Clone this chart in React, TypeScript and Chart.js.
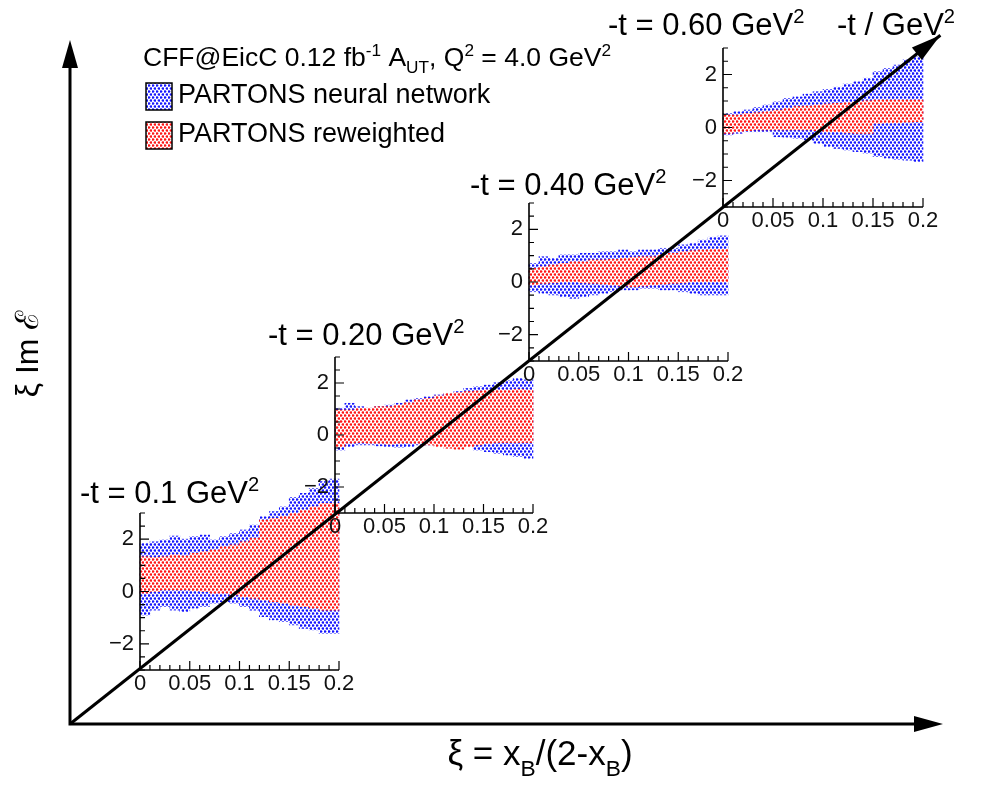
import React, { useEffect, useRef } from 'react';
import { Chart, registerables } from 'chart.js';

Chart.register(...registerables);

// ---------------- data ----------------
const BIN_CENTERS = [0.005, 0.015, 0.025, 0.035, 0.045, 0.055, 0.065, 0.075, 0.085, 0.095,
  0.105, 0.115, 0.125, 0.135, 0.145, 0.155, 0.165, 0.175, 0.185, 0.195];

const T_VALUES = ['0.1', '0.20', '0.40', '0.60'];
const X_TICKS = [0, 0.05, 0.1, 0.15, 0.2];
const Y_TICKS = [-2, 0, 2];

// -t = 0.1
const NN_HI_1 = [1.84, 1.90, 1.97, 2.12, 2.00, 2.10, 2.16, 1.97, 2.10, 2.22, 2.35, 2.54, 2.86, 3.05, 3.24, 3.60, 3.75, 3.94, 4.20, 4.30];
const NN_LO_1 = [-0.90, -0.71, -0.58, -0.71, -0.77, -0.64, -0.58, -0.45, -0.39, -0.45, -0.58, -0.71, -0.96, -1.09, -1.15, -1.28, -1.41, -1.47, -1.60, -1.60];
const RW_HI_1 = [1.33, 1.30, 1.33, 1.40, 1.36, 1.46, 1.52, 1.59, 1.71, 1.78, 1.90, 2.03, 2.73, 2.80, 2.86, 2.99, 3.11, 3.24, 3.37, 3.37];
const RW_LO_1 = [-0.07, 0.00, 0.06, 0.06, 0.06, 0.03, 0.00, -0.07, -0.07, -0.13, -0.20, -0.26, -0.32, -0.39, -0.45, -0.52, -0.58, -0.64, -0.71, -0.71];

// -t = 0.20
const NN_HI_2 = [1.03, 1.22, 1.09, 1.03, 1.09, 1.15, 1.22, 1.35, 1.41, 1.47, 1.54, 1.60, 1.67, 1.79, 1.86, 1.92, 2.01, 2.09, 2.18, 2.12];
const NN_LO_2 = [-0.58, -0.45, -0.38, -0.38, -0.42, -0.45, -0.47, -0.45, -0.38, -0.38, -0.26, -0.32, -0.38, -0.45, -0.58, -0.64, -0.71, -0.77, -0.83, -0.90];
const RW_HI_2 = [0.96, 0.96, 1.03, 1.03, 1.09, 1.09, 1.15, 1.24, 1.35, 1.41, 1.50, 1.60, 1.63, 1.67, 1.70, 1.73, 1.73, 1.73, 1.76, 1.73];
const RW_LO_2 = [-0.45, -0.32, -0.29, -0.32, -0.32, -0.35, -0.32, -0.32, -0.32, -0.38, -0.45, -0.51, -0.55, -0.45, -0.38, -0.32, -0.29, -0.29, -0.29, -0.29];

// -t = 0.40
const NN_HI_3 = [0.71, 0.96, 0.90, 1.03, 1.03, 1.09, 1.09, 1.15, 1.15, 1.22, 1.15, 1.22, 1.22, 1.28, 1.28, 1.41, 1.47, 1.59, 1.70, 1.75];
const NN_LO_3 = [-0.37, -0.43, -0.49, -0.56, -0.62, -0.56, -0.49, -0.43, -0.37, -0.30, -0.30, -0.24, -0.24, -0.30, -0.30, -0.37, -0.43, -0.49, -0.49, -0.49];
const RW_HI_3 = [0.52, 0.58, 0.65, 0.71, 0.77, 0.77, 0.84, 0.84, 0.86, 0.90, 0.94, 0.96, 0.96, 1.03, 1.09, 1.15, 1.19, 1.22, 1.24, 1.24];
const RW_LO_3 = [-0.11, -0.05, -0.03, 0.01, 0.01, -0.03, -0.05, -0.08, -0.11, -0.15, -0.18, -0.15, -0.11, -0.08, -0.05, -0.03, 0.01, 0.01, 0.01, 0.01];

// -t = 0.60
const NN_HI_4 = [0.53, 0.60, 0.66, 0.76, 0.85, 0.97, 1.10, 1.16, 1.26, 1.35, 1.44, 1.52, 1.64, 1.73, 1.86, 2.11, 2.23, 2.36, 2.55, 2.67];
const NN_LO_4 = [-0.28, -0.22, -0.16, -0.16, -0.16, -0.35, -0.37, -0.41, -0.47, -0.60, -0.72, -0.79, -0.85, -0.91, -0.97, -1.10, -1.16, -1.20, -1.23, -1.29];
const RW_HI_4 = [0.47, 0.47, 0.53, 0.56, 0.60, 0.66, 0.72, 0.79, 0.81, 0.85, 0.89, 0.91, 0.94, 0.97, 1.01, 1.04, 1.04, 1.04, 1.04, 1.04];
const RW_LO_4 = [-0.22, -0.16, -0.12, -0.09, -0.09, -0.09, -0.09, -0.09, -0.09, -0.12, -0.16, -0.16, -0.20, -0.22, -0.22, 0.16, 0.18, 0.18, 0.20, 0.22];

const SERIES = [
  [NN_LO_1, NN_HI_1, RW_LO_1, RW_HI_1],
  [NN_LO_2, NN_HI_2, RW_LO_2, RW_HI_2],
  [NN_LO_3, NN_HI_3, RW_LO_3, RW_HI_3],
  [NN_LO_4, NN_HI_4, RW_LO_4, RW_HI_4],
];

// main frame (diagonal -t axis)
const DIAG_X = [0, 0.997];
const DIAG_Y = [0, 1.007];

const LEGEND_NN = 'PARTONS neural network';
const LEGEND_RW = 'PARTONS reweighted';

// ---------------- layout ----------------
const W = 981;
const H = 788;
const FONT = '"Liberation Sans", Arial, Helvetica, sans-serif';
const Y_AXIS_W = 50;
const X_AXIS_H = 30;

const INSET_BOXES = [
  { l: 140, t: 513, r: 339, b: 670 },
  { l: 335, t: 357, r: 533, b: 513 },
  { l: 529, t: 203, r: 728, b: 361 },
  { l: 723, t: 48, r: 923, b: 207 },
];
const INSET_LABEL_POS = [
  { x: 80, y: 503 },
  { x: 268, y: 345 },
  { x: 470, y: 195 },
  { x: 608, y: 35 },
];

type Seg = { t: string; s?: 'sup' | 'sub' };

function richWidth(ctx: CanvasRenderingContext2D, segs: Seg[], size: number) {
  let w = 0;
  for (const seg of segs) {
    const fs = seg.s ? size * 0.65 : size;
    ctx.font = `${fs}px ${FONT}`;
    w += ctx.measureText(seg.t).width;
  }
  return w;
}

function drawRich(ctx: CanvasRenderingContext2D, segs: Seg[], x: number, y: number, size: number, subDrop = 0.25) {
  ctx.save();
  ctx.fillStyle = '#000';
  ctx.textAlign = 'left';
  ctx.textBaseline = 'alphabetic';
  let cx = x;
  for (const seg of segs) {
    const fs = seg.s ? size * 0.65 : size;
    ctx.font = `${fs}px ${FONT}`;
    const dy = seg.s === 'sup' ? -size * 0.38 : seg.s === 'sub' ? size * subDrop : 0;
    ctx.fillText(seg.t, cx, y + dy);
    cx += ctx.measureText(seg.t).width;
  }
  ctx.restore();
}

function makePattern(color: string, bg: string | null): CanvasPattern | string {
  const c = document.createElement('canvas');
  c.width = 4;
  c.height = 6;
  const g = c.getContext('2d');
  if (!g) return color;
  if (bg) {
    g.fillStyle = bg;
    g.fillRect(0, 0, 4, 6);
  }
  g.fillStyle = color;
  g.beginPath();
  g.arc(1, 1.5, 1.35, 0, Math.PI * 2);
  g.fill();
  g.beginPath();
  g.arc(3, 4.5, 1.35, 0, Math.PI * 2);
  g.fill();
  const p = g.createPattern(c, 'repeat');
  return p || color;
}

const insetAxesPlugin = {
  id: 'insetAxes',
  afterDatasetsDraw(chart: any) {
    const { ctx, chartArea: ca } = chart;
    const xs = chart.scales.x;
    const ys = chart.scales.y;
    ctx.save();
    ctx.strokeStyle = '#000';
    ctx.lineWidth = 1.6;
    ctx.beginPath();
    ctx.moveTo(ca.left, ca.top);
    ctx.lineTo(ca.left, ca.bottom);
    ctx.lineTo(ca.right, ca.bottom);
    ctx.stroke();
    ctx.lineWidth = 1.2;
    ctx.beginPath();
    for (let k = 0; k <= 20; k++) {
      const px = xs.getPixelForValue(k * 0.01);
      const len = k % 5 === 0 ? 9 : 5;
      ctx.moveTo(px, ca.bottom);
      ctx.lineTo(px, ca.bottom - len);
    }
    for (let k = -6; k <= 6; k++) {
      const py = ys.getPixelForValue(k * 0.5);
      const len = k % 4 === 0 ? 9 : 5;
      ctx.moveTo(ca.left, py);
      ctx.lineTo(ca.left + len, py);
    }
    ctx.stroke();
    ctx.restore();
  },
};

function insetConfig(idx: number, blue: any, red: any): any {
  const box = INSET_BOXES[idx];
  const [nnLo, nnHi, rwLo, rwHi] = SERIES[idx];
  const common = {
    borderWidth: 0,
    barPercentage: 1,
    categoryPercentage: 1,
    grouped: false,
    clip: false,
  };
  return {
    type: 'bar',
    data: {
      datasets: [
        {
          label: LEGEND_RW,
          data: BIN_CENTERS.map((x, i) => ({ x, y: [rwLo[i], rwHi[i]] })),
          backgroundColor: red,
          order: 1,
          ...common,
        },
        {
          label: LEGEND_NN,
          data: BIN_CENTERS.map((x, i) => ({ x, y: [nnLo[i], nnHi[i]] })),
          backgroundColor: blue,
          order: 2,
          ...common,
        },
      ],
    },
    options: {
      responsive: false,
      animation: false,
      events: [],
      layout: {
        padding: { left: box.l - Y_AXIS_W, top: box.t, right: W - box.r, bottom: H - box.b - X_AXIS_H },
      },
      plugins: { legend: { display: false }, tooltip: { enabled: false } },
      scales: {
        x: {
          type: 'linear',
          min: 0,
          max: 0.2,
          offset: false,
          grid: { display: false, drawTicks: false },
          border: { display: false },
          ticks: {
            color: '#111',
            font: { family: FONT, size: 22 },
            padding: 1,
            maxRotation: 0,
            autoSkip: false,
            callback: (v: number) => String(v),
          },
          afterBuildTicks: (s: any) => {
            s.ticks = X_TICKS.map((v) => ({ value: v }));
          },
          afterFit: (s: any) => {
            s.height = X_AXIS_H;
          },
        },
        y: {
          type: 'linear',
          min: -3,
          max: 3,
          grid: { display: false, drawTicks: false },
          border: { display: false },
          ticks: {
            color: '#111',
            font: { family: FONT, size: 22 },
            padding: 6,
            autoSkip: false,
            callback: (v: number) => (v < 0 ? '\u2212' + Math.abs(v) : String(v)),
          },
          afterBuildTicks: (s: any) => {
            s.ticks = Y_TICKS.map((v) => ({ value: v }));
          },
          afterFit: (s: any) => {
            s.width = Y_AXIS_W;
          },
        },
      },
    },
    plugins: [insetAxesPlugin],
  };
}

function arrowHead(ctx: CanvasRenderingContext2D, tx: number, ty: number, ang: number, len: number, hw: number) {
  const bx = tx - Math.cos(ang) * len;
  const by = ty - Math.sin(ang) * len;
  const nx = -Math.sin(ang);
  const ny = Math.cos(ang);
  ctx.beginPath();
  ctx.moveTo(tx, ty);
  ctx.lineTo(bx + nx * hw, by + ny * hw);
  ctx.lineTo(bx - nx * hw, by - ny * hw);
  ctx.closePath();
  ctx.fill();
}

function mainConfig(blue: any, red: any): any {
  const mainPlugin = {
    id: 'mainFrame',
    afterDatasetsDraw(chart: any) {
      const { ctx, chartArea: ca } = chart;
      ctx.save();
      ctx.strokeStyle = '#000';
      ctx.fillStyle = '#000';
      ctx.lineWidth = 3;
      ctx.beginPath();
      ctx.moveTo(ca.left, ca.top + 20);
      ctx.lineTo(ca.left, ca.bottom);
      ctx.lineTo(ca.right - 20, ca.bottom);
      ctx.stroke();
      arrowHead(ctx, ca.right, ca.bottom, 0, 29, 8);
      arrowHead(ctx, ca.left, ca.top, -Math.PI / 2, 28, 8);
      const meta = chart.getDatasetMeta(0);
      const p0 = meta.data[0];
      const p1 = meta.data[meta.data.length - 1];
      const ang = Math.atan2(p1.y - p0.y, p1.x - p0.x);
      arrowHead(ctx, p1.x, p1.y, ang, 30, 8);
      ctx.restore();
    },
    afterDraw(chart: any) {
      const ctx: CanvasRenderingContext2D = chart.ctx;
      // legend header
      drawRich(ctx, [
        { t: 'CFF@EicC 0.12 fb' }, { t: '-1', s: 'sup' }, { t: ' A' }, { t: 'UT', s: 'sub' },
        { t: ', Q' }, { t: '2', s: 'sup' }, { t: ' = 4.0 GeV' }, { t: '2', s: 'sup' },
      ], 143, 66, 26.5);
      // legend entries
      const entries = [
        { label: LEGEND_NN, fill: blue, top: 83 },
        { label: LEGEND_RW, fill: red, top: 122 },
      ];
      for (const e of entries) {
        ctx.save();
        ctx.fillStyle = '#fff';
        ctx.fillRect(146, e.top, 26, 27);
        ctx.fillStyle = e.fill;
        ctx.fillRect(146, e.top, 26, 27);
        ctx.strokeStyle = '#000';
        ctx.lineWidth = 1.5;
        ctx.strokeRect(146, e.top, 26, 27);
        ctx.restore();
        drawRich(ctx, [{ t: e.label }], 178, e.top + 20, 27);
      }
      // inset labels
      T_VALUES.forEach((v, i) => {
        const p = INSET_LABEL_POS[i];
        drawRich(ctx, [{ t: `-t = ${v} GeV` }, { t: '2', s: 'sup' }], p.x, p.y, 31);
      });
      drawRich(ctx, [{ t: '-t / GeV' }, { t: '2', s: 'sup' }], 837, 35, 31);
      // x title
      const xt: Seg[] = [{ t: '\u03BE = x' }, { t: 'B', s: 'sub' }, { t: '/(2-x' }, { t: 'B', s: 'sub' }, { t: ')' }];
      const xw = richWidth(ctx, xt, 35);
      drawRich(ctx, xt, 540 - xw / 2, 765, 35, 0.3);
      // y title
      const yt: Seg[] = [{ t: '\u03BE Im \u2130' }];
      const yw = richWidth(ctx, yt, 32);
      ctx.save();
      ctx.translate(38, 354);
      ctx.rotate(-Math.PI / 2);
      drawRich(ctx, yt, -yw / 2, 0, 32);
      ctx.restore();
    },
  };
  return {
    type: 'line',
    data: {
      datasets: [
        {
          label: '-t / GeV2',
          data: DIAG_X.map((x, i) => ({ x, y: DIAG_Y[i] })),
          borderColor: '#000',
          borderWidth: 3,
          pointRadius: 0,
          fill: false,
          clip: false,
        },
      ],
    },
    options: {
      responsive: false,
      animation: false,
      events: [],
      layout: { padding: { left: 70, top: 40, right: 38, bottom: 64 } },
      plugins: { legend: { display: false }, tooltip: { enabled: false } },
      scales: {
        x: { type: 'linear', min: 0, max: 1, display: false },
        y: { type: 'linear', min: 0, max: 1, display: false },
      },
    },
    plugins: [mainPlugin],
  };
}

const canvasStyle: React.CSSProperties = {
  position: 'absolute',
  left: 0,
  top: 0,
  width: W,
  height: H,
};

export default function App() {
  const r0 = useRef<HTMLCanvasElement>(null);
  const r1 = useRef<HTMLCanvasElement>(null);
  const r2 = useRef<HTMLCanvasElement>(null);
  const r3 = useRef<HTMLCanvasElement>(null);
  const rm = useRef<HTMLCanvasElement>(null);

  useEffect(() => {
    const blue = makePattern('#1414ff', null);
    const red = makePattern('#ff1414', '#ffffff');
    const charts: Chart[] = [];
    [r0, r1, r2, r3].forEach((r, i) => {
      if (r.current) charts.push(new Chart(r.current, insetConfig(i, blue, red)));
    });
    if (rm.current) charts.push(new Chart(rm.current, mainConfig(blue, red)));
    return () => charts.forEach((c) => c.destroy());
  }, []);

  return (
    <div style={{ position: 'absolute', left: 0, top: 0, width: W, height: H, background: '#fff', overflow: 'hidden' }}>
      <canvas ref={r0} width={W} height={H} style={canvasStyle} />
      <canvas ref={r1} width={W} height={H} style={canvasStyle} />
      <canvas ref={r2} width={W} height={H} style={canvasStyle} />
      <canvas ref={r3} width={W} height={H} style={canvasStyle} />
      <canvas ref={rm} width={W} height={H} style={canvasStyle} />
    </div>
  );
}
